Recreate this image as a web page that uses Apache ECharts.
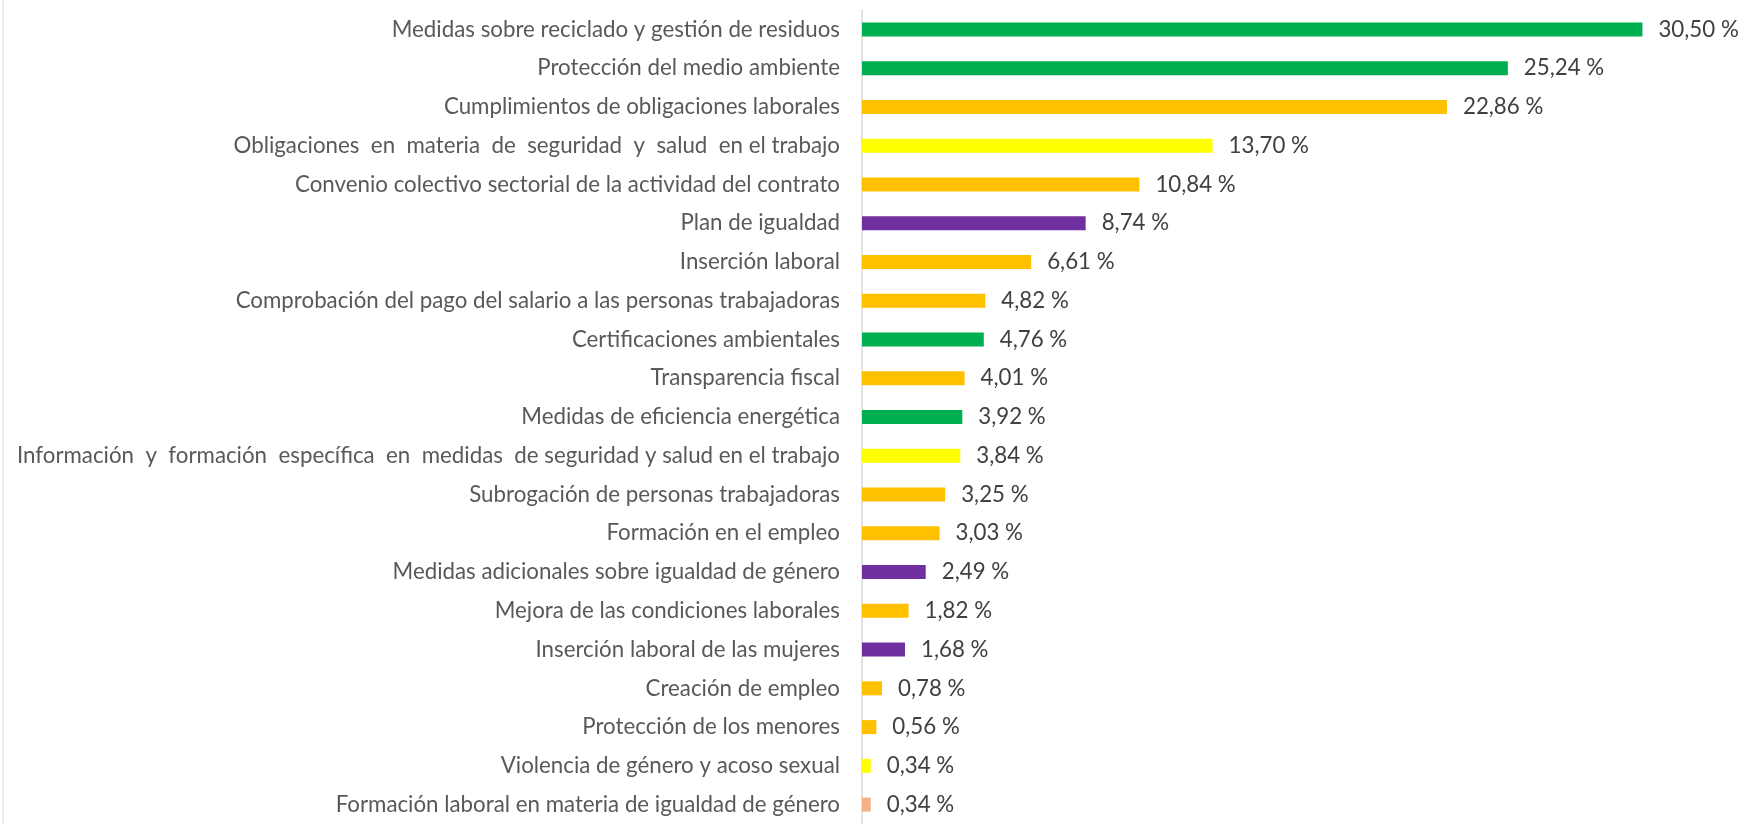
<!DOCTYPE html>
<html>
<head>
<meta charset="utf-8">
<script src="https://cdn.jsdelivr.net/npm/echarts@6/dist/echarts.min.js"></script>
<style>
  html, body { margin: 0; padding: 0; background: #fff; }
  #chart { width: 1753px; height: 824px; }
</style>
</head>
<body>
<div id="chart"></div>
<script>
// categorías de arriba a abajo
const categories = [
  'Medidas sobre reciclado y gestión de residuos',
  'Protección del medio ambiente',
  'Cumplimientos de obligaciones laborales',
  'Obligaciones  en  materia  de  seguridad  y  salud  en el trabajo',
  'Convenio colectivo sectorial de la actividad del contrato',
  'Plan de igualdad',
  'Inserción laboral',
  'Comprobación del pago del salario a las personas trabajadoras',
  'Certificaciones ambientales',
  'Transparencia fiscal',
  'Medidas de eficiencia energética',
  'Información  y  formación  específica  en  medidas  de seguridad y salud en el trabajo',
  'Subrogación de personas trabajadoras',
  'Formación en el empleo',
  'Medidas adicionales sobre igualdad de género',
  'Mejora de las condiciones laborales',
  'Inserción laboral de las mujeres',
  'Creación de empleo',
  'Protección de los menores',
  'Violencia de género y acoso sexual',
  'Formación laboral en materia de igualdad de género'
]
const values = [30.50, 25.24, 22.86, 13.70, 10.84, 8.74, 6.61, 4.82, 4.76, 4.01, 3.92,
  3.84, 3.25, 3.03, 2.49, 1.82, 1.68, 0.78, 0.56, 0.34, 0.34]
const groups = ['ambiental', 'ambiental', 'laboral', 'seguridad', 'laboral', 'igualdad', 'laboral',
  'laboral', 'ambiental', 'laboral', 'ambiental', 'seguridad', 'laboral', 'laboral', 'igualdad',
  'laboral', 'igualdad', 'laboral', 'laboral', 'seguridad', 'formacion']

const groupColors = {
  ambiental: '#00B050',
  laboral: '#FFC000',
  seguridad: '#FFFF00',
  igualdad: '#7030A0',
  formacion: '#F4B183'
}

const font = 'Lato, "Liberation Sans", sans-serif'

const option = {
  animation: false,
  backgroundColor: '#fff',
  graphic: [
    {
      type: 'line',
      shape: { x1: 3, y1: 0, x2: 3, y2: 824 },
      style: { stroke: '#d9d9d9', lineWidth: 1 }
    }
  ],
  grid: {
    left: 862,
    top: 10,
    height: 819,
    right: 21
  },
  xAxis: {
    type: 'value',
    min: 0,
    max: 34,
    show: false
  },
  yAxis: {
    type: 'category',
    inverse: true,
    data: categories,
    axisLine: { lineStyle: { color: '#d9d9d9', width: 1.5 } },
    axisTick: { length: 7, lineStyle: { color: '#d9d9d9', width: 1.5 } },
    axisLabel: {
      margin: 22,
      color: '#595959',
      fontSize: 22.3,
      fontFamily: font
    }
  },
  series: [
    {
      type: 'bar',
      barWidth: 14,
      data: values.map((v, i) => ({
        value: v,
        itemStyle: { color: groupColors[groups[i]] }
      })),
      label: {
        show: true,
        position: 'right',
        distance: 16,
        color: '#404040',
        fontSize: 22.3,
        fontFamily: font,
        formatter: p => p.value.toFixed(2).replace('.', ',') + ' %'
      }
    }
  ]
}

let myChart = echarts.init(document.getElementById('chart'))
myChart.setOption(option)
</script>
</body>
</html>
